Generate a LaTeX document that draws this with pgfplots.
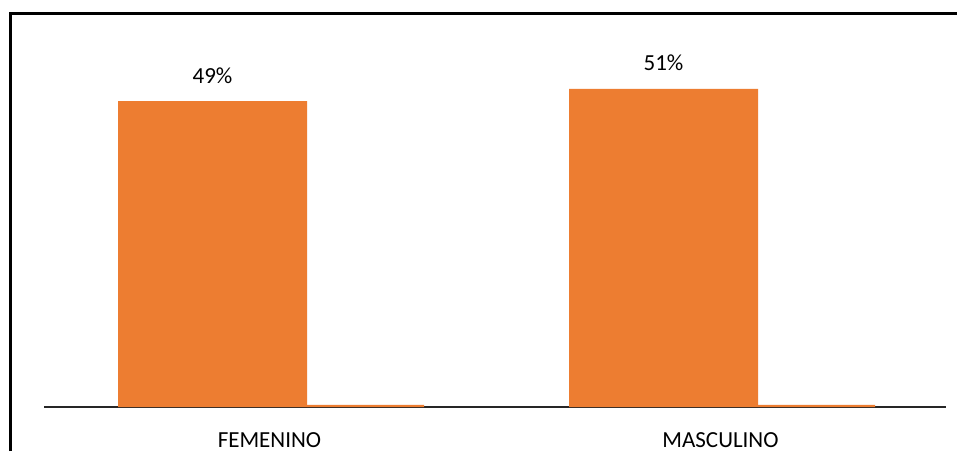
\documentclass[border=0pt]{standalone}
\usepackage{pgfplots}
\pgfplotsset{compat=1.18}
\usepackage{fontspec}
\setmainfont{Carlito}
\definecolor{barorange}{HTML}{ED7D31}
\begin{document}
\begin{tikzpicture}[x=1pt,y=1pt]
\useasboundingbox (0,0) rectangle (957,451);
\fill[white] (0,0) rectangle (957,451);
\draw[line width=3pt] (10,0) -- (10,437) -- (965,437);
\begin{axis}[
  at={(44pt,44pt)}, anchor=south west,
  scale only axis, width=902pt, height=374.4pt,
  xmin=-0.5, xmax=1.5, ymin=0, ymax=60,
  hide y axis,
  axis x line*=bottom,
  x axis line style={line width=1.5pt, draw=black!85, -},
  xtick={0,1}, xticklabels={FEMENINO,MASCULINO},
  xtick style={draw=none},
  xticklabel style={font=\fontsize{23}{27}\selectfont, anchor=base, yshift=-40pt, inner sep=0pt},
  /pgf/number format/assume math mode=true,
  clip=false,
]
\addplot[ybar, bar width=189pt, bar shift=-57pt, fill=barorange, draw=none,
  nodes near coords={\pgfmathprintnumber{\pgfplotspointmeta}\%},
  every node near coord/.append style={font=\fontsize{23}{27}\selectfont, anchor=base, inner sep=0pt, xshift=-57pt, yshift=18pt, black}]
  coordinates {(0,49) (1,51)};
\addplot[ybar, bar width=117pt, bar shift=96pt, fill=barorange, draw=none]
  coordinates {(0,0.35) (1,0.35)};
\end{axis}
\end{tikzpicture}
\end{document}
